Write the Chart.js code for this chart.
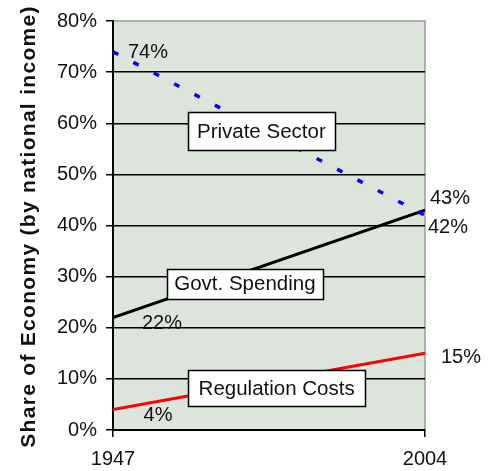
<!DOCTYPE html>
<html>
<head>
<meta charset="utf-8">
<script src="https://cdn.jsdelivr.net/npm/chart.js@4.4.1/dist/chart.umd.min.js"></script>
<style>
  html, body { margin: 0; padding: 0; background: #fff; }
  #wrap { width: 491px; height: 471px; }
</style>
</head>
<body>
<div id="wrap"><canvas id="chart" width="491" height="471"></canvas></div>
<script>
// 数据：各部门占国民收入的份额 (%)
const years = [1947, 2004];
const privateSector = [74, 42];
const govtSpending = [22, 43];
const regulationCosts = [4, 15];
const yTickValues = [0, 10, 20, 30, 40, 50, 60, 70, 80];
const xTickValues = [1947, 2004];
const yTitle = 'Share of Economy (by national income)';

// 系列名称标签框（数据坐标定位）
const seriesBoxes = [
  { text: 'Private Sector', year: 1974.1, value: 58.4, w: 147, h: 38 },
  { text: 'Govt. Spending', year: 1971.1, value: 28.6, w: 156, h: 30 },
  { text: 'Regulation Costs', year: 1976.9, value: 8.2, w: 177, h: 36 }
];
// 端点数值标签：[数据集, 点序号, 文本, dx, dy, 对齐]
const endLabels = [
  [0, 0, '74%', 15, 1, 'left'],
  [0, 1, '42%', 3, 12, 'left'],
  [1, 1, '43%', 5, -12, 'left'],
  [1, 0, '22%', 49, 6, 'center'],
  [2, 0, '4%', 45, 6, 'center'],
  [2, 1, '15%', 16, 4, 'left']
];

const FONT = '"Liberation Sans", Arial, sans-serif';
const toXY = vals => years.map((y, i) => ({ x: y, y: vals[i] }));

const plotBackground = {
  id: 'plotBackground',
  beforeDraw(chart) {
    const { ctx, chartArea: a } = chart;
    ctx.save();
    ctx.fillStyle = '#dde4db';
    ctx.fillRect(a.left, a.top, a.right - a.left, a.bottom - a.top);
    ctx.strokeStyle = '#9a9a9a';
    ctx.lineWidth = 1.5;
    ctx.beginPath();
    ctx.moveTo(a.left, a.top);
    ctx.lineTo(a.right, a.top);
    ctx.lineTo(a.right, a.bottom);
    ctx.stroke();
    ctx.restore();
  }
};

const labelsPlugin = {
  id: 'labelsPlugin',
  afterDatasetsDraw(chart) {
    const { ctx } = chart;
    const xs = chart.scales.x, ys = chart.scales.y;
    ctx.save();
    ctx.font = '20.5px ' + FONT;
    ctx.textBaseline = 'middle';
    for (const b of seriesBoxes) {
      const cx = xs.getPixelForValue(b.year);
      const cy = ys.getPixelForValue(b.value);
      const x0 = Math.round(cx - b.w / 2) + 0.5, y0 = Math.round(cy - b.h / 2) + 0.5;
      ctx.fillStyle = '#fff';
      ctx.fillRect(x0, y0, b.w, b.h);
      ctx.strokeStyle = '#000';
      ctx.lineWidth = 1.5;
      ctx.strokeRect(x0, y0, b.w, b.h);
      ctx.fillStyle = '#111';
      ctx.textAlign = 'center';
      ctx.fillText(b.text, cx, cy + 1);
    }
    ctx.font = '20px ' + FONT;
    for (const [di, pi, txt, dx, dy, align] of endLabels) {
      const pt = chart.getDatasetMeta(di).data[pi];
      ctx.textAlign = align;
      ctx.fillStyle = '#111';
      ctx.fillText(txt, pt.x + dx, pt.y + dy);
    }
    ctx.restore();
  },
  afterDraw(chart) {
    const { ctx, chartArea: a } = chart;
    ctx.save();
    ctx.translate(35, (a.top + a.bottom) / 2 + 1);
    ctx.rotate(-Math.PI / 2);
    ctx.font = 'bold 21px ' + FONT;
    ctx.letterSpacing = '1.3px';
    ctx.textAlign = 'center';
    ctx.textBaseline = 'alphabetic';
    ctx.fillStyle = '#111';
    ctx.fillText(yTitle, 0, 0);
    ctx.restore();
  }
};

new Chart(document.getElementById('chart'), {
  type: 'line',
  data: {
    datasets: [
      {
        label: 'Private Sector',
        data: toXY(privateSector),
        borderColor: '#0000ff',
        borderWidth: 3.5,
        borderDash: [6, 17],
        pointRadius: 0,
        fill: false
      },
      {
        label: 'Govt. Spending',
        data: toXY(govtSpending),
        borderColor: '#000',
        borderWidth: 3,
        pointRadius: 0,
        fill: false
      },
      {
        label: 'Regulation Costs',
        data: toXY(regulationCosts),
        borderColor: '#ff0000',
        borderWidth: 3,
        pointRadius: 0,
        fill: false
      }
    ]
  },
  options: {
    responsive: false,
    animation: false,
    events: [],
    layout: { padding: { top: 11, right: 66, left: 0, bottom: 0 } },
    plugins: { legend: { display: false }, tooltip: { enabled: false } },
    scales: {
      x: {
        type: 'linear',
        min: years[0],
        max: years[years.length - 1],
        afterFit(s) { s.height = 41; },
        afterBuildTicks(s) { s.ticks = xTickValues.map(v => ({ value: v })); },
        grid: { drawOnChartArea: false, drawTicks: true, tickLength: 7, color: '#000', lineWidth: 1.5 },
        border: { color: '#000', width: 2 },
        ticks: {
          color: '#111', font: { family: FONT, size: 20 }, padding: 10, maxRotation: 0, autoSkip: false,
          callback: v => String(v)
        }
      },
      y: {
        min: 0,
        max: 80,
        afterFit(s) { s.width = 113; },
        afterBuildTicks(s) { s.ticks = yTickValues.map(v => ({ value: v })); },
        grid: {
          drawTicks: true,
          tickLength: 7,
          lineWidth: 1.5,
          color: c => (c.tick && c.tick.value === 80 ? 'rgba(0,0,0,0)' : '#000'),
          tickColor: '#000'
        },
        border: { color: '#000', width: 2 },
        ticks: { color: '#111', font: { family: FONT, size: 20 }, padding: 9, callback: v => v + '%' }
      }
    }
  },
  plugins: [plotBackground, labelsPlugin]
});
</script>
</body>
</html>
